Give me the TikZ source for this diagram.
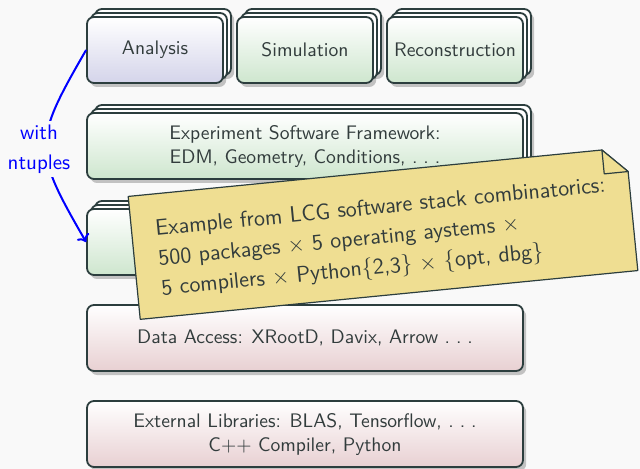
\documentclass[tikz,border=0pt]{standalone}
\usepackage{fontspec}
\usetikzlibrary{shadows,arrows.meta}

\definecolor{bgcol}{RGB}{249,249,249}
\definecolor{edgecol}{RGB}{44,62,62}
\definecolor{txtcol}{RGB}{50,60,60}
\definecolor{lavbot}{RGB}{212,212,234}
\definecolor{grnbot}{RGB}{206,230,206}
\definecolor{redbot}{RGB}{232,208,210}
\definecolor{notecol}{RGB}{239,222,146}
\definecolor{linkcol}{RGB}{0,0,255}

% widely spaced ellipsis
\newcommand\spaceddots{\mbox{.\kern.3em.\kern.3em.}}

\tikzset{
  layer/.style={draw=edgecol, line width=0.9pt, rounded corners=3.5pt,
    inner sep=0pt, align=center, text=txtcol, top color=white,
    font=\sffamily\fontsize{9.8}{12}\selectfont},
  single/.style={layer, minimum width=68pt, minimum height=33pt},
  wide/.style={layer, minimum width=218pt, minimum height=33pt},
  lav/.style={bottom color=lavbot},
  grn/.style={bottom color=grnbot},
  red/.style={bottom color=redbot},
  flat/.style={general shadow={shadow xshift=1.6pt, shadow yshift=-2pt,
    fill=black, opacity=.22}},
  stacked/.style={
    general shadow={shadow xshift=5.6pt, shadow yshift=2pt, fill=black, opacity=.22},
    general shadow={shadow xshift=1.6pt, shadow yshift=-2pt, fill=black, opacity=.22},
    general shadow={shadow xshift=4pt, shadow yshift=4pt, fill=white,
      draw=edgecol, line width=0.9pt},
    general shadow={shadow xshift=2pt, shadow yshift=2pt, fill=white,
      draw=edgecol, line width=0.9pt}},
  notebody/.style={fill=notecol, draw=edgecol, line width=0.6pt, line join=round},
  notetext/.style={align=left, text=txtcol, inner sep=0pt,
    font=\sffamily\fontsize{11.25}{15}\selectfont},
  link/.style={draw=linkcol, line width=1pt, -{To[length=3.5pt,width=7pt]}},
  linklabel/.style={fill=bgcol, text=linkcol, align=center, inner sep=2pt,
    font=\sffamily\fontsize{10.5}{15}\selectfont},
}

\begin{document}
\begin{tikzpicture}[x=0.5pt, y=-0.5pt]
  % canvas
  \useasboundingbox (0,0) rectangle (640,469);
  \fill[bgcol] (0,0) rectangle (640,469);

  % application layer
  \node[single, lav, stacked] (analysis) at (155,50) {Analysis};
  \node[single, grn, stacked] (simulation) at (305,50) {Simulation};
  \node[single, grn, stacked] (reconstruction) at (455,50) {Reconstruction};

  % framework and core layers
  \node[wide, grn, stacked] (framework) at (305,146)
    {Experiment Software Framework:\\EDM, Geometry, Conditions, \spaceddots};
  \node[wide, grn, stacked] (core) at (305,242) {};

  % data access and external layers
  \node[wide, red, flat] (dataaccess) at (305,338)
    {Data Access: XRootD, Davix, Arrow \spaceddots};
  \node[wide, red, flat] (external) at (305,434)
    {External Libraries: BLAS, Tensorflow, \spaceddots\\C++ Compiler, Python};

  % ntuple shortcut from analysis down to the core layer
  \draw[link] (analysis.west) .. controls +(-53.5,92.7) and +(-53.5,-92.7) ..
    (core.west) node[pos=.5, linklabel, xshift=-3.5pt, yshift=-1.5pt] {with\\ntuples};

  % sticky note with a folded corner
  \begin{scope}[shift={(383,233.5)}, rotate=5.6]
    \filldraw[notebody] (-250,-61.75) -- (226,-61.75) -- (250,-37.75)
      -- (250,61.75) -- (-250,61.75) -- cycle;
    \filldraw[notebody] (226,-61.75) -- (226,-37.75) -- (250,-37.75) -- cycle;
    \node[notetext, transform shape] (note) at (0,5)
      {Example from LCG software stack combinatorics:\\
       500 packages $\times$ 5 operating aystems $\times$\\
       5 compilers $\times$ Python\{2,3\} $\times$ \{opt, dbg\}};
  \end{scope}
\end{tikzpicture}
\end{document}
